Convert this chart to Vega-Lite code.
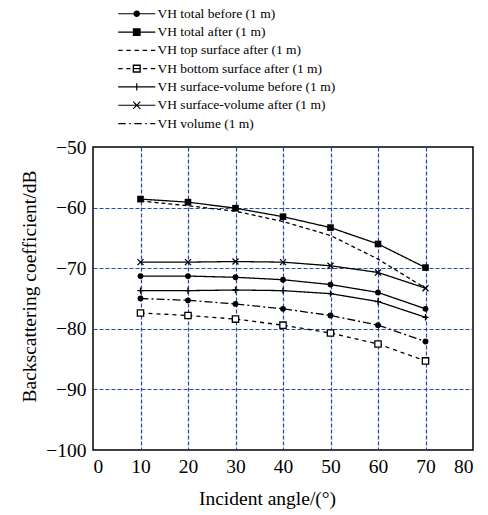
{
  "$schema": "https://vega.github.io/schema/vega-lite/v6.json",
  "width": 380,
  "height": 303,
  "autosize": "none",
  "padding": {"left": 93, "top": 147, "right": 15, "bottom": 65},
  "background": "white",
  "config": {
    "view": {"stroke": "black", "strokeWidth": 1.5},
    "font": "Liberation Serif",
    "axis": {
      "labelFont": "Liberation Serif",
      "labelFontSize": 19.5,
      "labelColor": "black",
      "titleFont": "Liberation Serif",
      "titleFontSize": 19.5,
      "titleFontWeight": "normal",
      "titleColor": "black",
      "ticks": false,
      "domain": false,
      "gridColor": "#2547a6",
      "gridDash": [4, 2],
      "gridWidth": 1.2,
      "gridOpacity": 1
    },
    "legend": {
      "symbolFillColor": "black",
      "symbolStrokeColor": "black",
      "symbolStrokeWidth": 1.2,
      "symbolOpacity": 1
    }
  },
  "datasets": {
    "d": [
      {"series": "VH total before (1 m)", "angle": 10, "value": -71.3},
      {"series": "VH total before (1 m)", "angle": 20, "value": -71.3},
      {"series": "VH total before (1 m)", "angle": 30, "value": -71.5},
      {"series": "VH total before (1 m)", "angle": 40, "value": -71.9},
      {"series": "VH total before (1 m)", "angle": 50, "value": -72.7},
      {"series": "VH total before (1 m)", "angle": 60, "value": -74.0},
      {"series": "VH total before (1 m)", "angle": 70, "value": -76.7},
      {"series": "VH total after (1 m)", "angle": 10, "value": -58.6},
      {"series": "VH total after (1 m)", "angle": 20, "value": -59.1},
      {"series": "VH total after (1 m)", "angle": 30, "value": -60.1},
      {"series": "VH total after (1 m)", "angle": 40, "value": -61.5},
      {"series": "VH total after (1 m)", "angle": 50, "value": -63.3},
      {"series": "VH total after (1 m)", "angle": 60, "value": -66.0},
      {"series": "VH total after (1 m)", "angle": 70, "value": -69.9},
      {"series": "VH top surface after (1 m)", "angle": 10, "value": -58.9},
      {"series": "VH top surface after (1 m)", "angle": 20, "value": -59.7},
      {"series": "VH top surface after (1 m)", "angle": 30, "value": -60.6},
      {"series": "VH top surface after (1 m)", "angle": 40, "value": -62.3},
      {"series": "VH top surface after (1 m)", "angle": 50, "value": -64.6},
      {"series": "VH top surface after (1 m)", "angle": 60, "value": -68.5},
      {"series": "VH top surface after (1 m)", "angle": 70, "value": -73.3},
      {"series": "VH bottom surface after (1 m)", "angle": 10, "value": -77.4},
      {"series": "VH bottom surface after (1 m)", "angle": 20, "value": -77.8},
      {"series": "VH bottom surface after (1 m)", "angle": 30, "value": -78.4},
      {"series": "VH bottom surface after (1 m)", "angle": 40, "value": -79.4},
      {"series": "VH bottom surface after (1 m)", "angle": 50, "value": -80.7},
      {"series": "VH bottom surface after (1 m)", "angle": 60, "value": -82.5},
      {"series": "VH bottom surface after (1 m)", "angle": 70, "value": -85.3},
      {"series": "VH surface-volume before (1 m)", "angle": 10, "value": -73.7},
      {"series": "VH surface-volume before (1 m)", "angle": 20, "value": -73.7},
      {"series": "VH surface-volume before (1 m)", "angle": 30, "value": -73.6},
      {"series": "VH surface-volume before (1 m)", "angle": 40, "value": -73.7},
      {"series": "VH surface-volume before (1 m)", "angle": 50, "value": -74.2},
      {"series": "VH surface-volume before (1 m)", "angle": 60, "value": -75.5},
      {"series": "VH surface-volume before (1 m)", "angle": 70, "value": -78.1},
      {"series": "VH surface-volume after (1 m)", "angle": 10, "value": -69.0},
      {"series": "VH surface-volume after (1 m)", "angle": 20, "value": -69.0},
      {"series": "VH surface-volume after (1 m)", "angle": 30, "value": -68.9},
      {"series": "VH surface-volume after (1 m)", "angle": 40, "value": -69.0},
      {"series": "VH surface-volume after (1 m)", "angle": 50, "value": -69.6},
      {"series": "VH surface-volume after (1 m)", "angle": 60, "value": -70.7},
      {"series": "VH surface-volume after (1 m)", "angle": 70, "value": -73.3},
      {"series": "VH volume (1 m)", "angle": 10, "value": -75.0},
      {"series": "VH volume (1 m)", "angle": 20, "value": -75.3},
      {"series": "VH volume (1 m)", "angle": 30, "value": -75.9},
      {"series": "VH volume (1 m)", "angle": 40, "value": -76.7},
      {"series": "VH volume (1 m)", "angle": 50, "value": -77.8},
      {"series": "VH volume (1 m)", "angle": 60, "value": -79.4},
      {"series": "VH volume (1 m)", "angle": 70, "value": -82.1}
    ]
  },
  "data": {"name": "d"},
  "encoding": {
    "x": {
      "field": "angle", "type": "quantitative",
      "scale": {"domain": [0, 80], "nice": false, "zero": false},
      "axis": {
        "title": "Incident angle/(°)",
        "values": [0, 10, 20, 30, 40, 50, 60, 70, 80],
        "labelPadding": 7,
        "titlePadding": 14,
        "titleX": 174,
        "gridOpacity": {"condition": {"test": "datum.value === 0 || datum.value === 80", "value": 0}, "value": 1}
      }
    },
    "y": {
      "field": "value", "type": "quantitative",
      "scale": {"domain": [-100, -50], "nice": false, "zero": false},
      "axis": {
        "title": "Backscattering coefficient/dB",
        "values": [-100, -90, -80, -70, -60, -50],
        "labelPadding": 7,
        "titlePadding": 6,
        "titleY": 139,
        "gridOpacity": {"condition": {"test": "datum.value === -100 || datum.value === -50", "value": 0}, "value": 1}
      }
    }
  },
  "layer": [
    {
      "mark": {"type": "line", "color": "black", "strokeWidth": 1.3},
      "encoding": {
        "strokeDash": {
          "field": "series", "type": "nominal",
          "scale": {
            "domain": ["VH total before (1 m)", "VH total after (1 m)", "VH top surface after (1 m)", "VH bottom surface after (1 m)", "VH surface-volume before (1 m)", "VH surface-volume after (1 m)", "VH volume (1 m)"],
            "range": [[1, 0], [1, 0], [4, 3], [4, 4], [1, 0], [1, 0], [8, 3, 2, 3]]
          },
          "legend": {
            "title": null,
            "orient": "none",
            "legendX": 37,
            "legendY": -140,
            "padding": 0,
            "symbolSize": 36,
            "labelOffset": 14,
            "rowPadding": 3.3,
            "labelFont": "Liberation Serif",
            "labelFontSize": 13.5,
            "labelColor": "black",
            "labelLimit": 400,
            "symbolFillColor": "black",
            "symbolStrokeColor": "black",
            "symbolStrokeWidth": 1.2
          }
        }
      }
    },
    {
      "transform": [{"filter": "datum.series === 'VH total before (1 m)' || datum.series === 'VH volume (1 m)'"}],
      "mark": {"type": "point", "shape": "circle", "filled": true, "color": "black", "size": 34, "opacity": 1}
    },
    {
      "transform": [{"filter": "datum.series === 'VH total after (1 m)'"}],
      "mark": {"type": "point", "shape": "square", "filled": true, "color": "black", "size": 44, "opacity": 1}
    },
    {
      "transform": [{"filter": "datum.series === 'VH bottom surface after (1 m)'"}],
      "mark": {"type": "point", "shape": "square", "fill": "white", "stroke": "black", "strokeWidth": 1.3, "size": 40, "opacity": 1}
    },
    {
      "transform": [{"filter": "datum.series === 'VH surface-volume before (1 m)'"}],
      "mark": {"type": "point", "shape": "M-1,0H1M0,-1V1", "filled": false, "stroke": "black", "strokeWidth": 1.3, "size": 40, "opacity": 1}
    },
    {
      "transform": [{"filter": "datum.series === 'VH surface-volume after (1 m)'"}],
      "mark": {"type": "point", "shape": "M-1,-1L1,1M-1,1L1,-1", "filled": false, "stroke": "black", "strokeWidth": 1.3, "size": 36, "opacity": 1}
    },
    {
      "transform": [{"filter": "datum.angle > 1000"}],
      "mark": {"type": "point", "filled": true, "color": "black"},
      "encoding": {
        "shape": {
          "field": "series", "type": "nominal",
          "scale": {
            "domain": ["VH total before (1 m)", "VH total after (1 m)", "VH top surface after (1 m)", "VH bottom surface after (1 m)", "VH surface-volume before (1 m)", "VH surface-volume after (1 m)", "VH volume (1 m)"],
            "range": [
              "M-6.2,-0.2H6.2V0.2H-6.2ZM1.1,0A1.1,1.1,0,1,1,-1.1,0A1.1,1.1,0,1,1,1.1,0Z",
              "M-6.2,-0.2H6.2V0.2H-6.2ZM-1.3,-1.3H1.3V1.3H-1.3Z",
              "M-6.17,-0.2H-4.7V0.2H-6.17ZM-3.45,-0.2H-1.98V0.2H-3.45ZM-0.73,-0.2H0.73V0.2H-0.73ZM1.98,-0.2H3.45V0.2H1.98ZM4.7,-0.2H6.17V0.2H4.7Z",
              "M-6.17,-0.2H-4.7V0.2H-6.17ZM-3.45,-0.2H-2.1V0.2H-3.45ZM2.1,-0.2H3.45V0.2H2.1ZM4.7,-0.2H6.17V0.2H4.7ZM-1.35,-1.35H1.35V1.35H-1.35ZM-0.9,-0.9V0.9H0.9V-0.9ZM-0.9,-0.2H0.9V0.2H-0.9Z",
              "M-6.2,-0.2H6.2V0.2H-6.2ZM-0.2,-1.2H0.2V1.2H-0.2Z",
              "M-6.2,-0.2H6.2V0.2H-6.2ZM-1.06,-1.34L1.34,1.06L1.06,1.34L-1.34,-1.06ZM-1.34,1.06L1.06,-1.34L1.34,-1.06L-1.06,1.34Z",
              "M-6.17,-0.2H-3.67V0.2H-6.17ZM-2.5,-0.2H-2.0V0.2H-2.5ZM-0.83,-0.2H1.67V0.2H-0.83ZM2.83,-0.2H3.33V0.2H2.83ZM4.5,-0.2H6.17V0.2H4.5Z"
            ]
          },
          "legend": {
            "title": null,
            "orient": "none",
            "legendX": 37,
            "legendY": -140,
            "padding": 0,
            "symbolSize": 36,
            "labelOffset": 14,
            "rowPadding": 3.3,
            "labelFont": "Liberation Serif",
            "labelFontSize": 13.5,
            "labelColor": "black",
            "labelLimit": 400,
            "symbolFillColor": "black",
            "symbolStrokeColor": "black",
            "symbolStrokeWidth": 1.2
          }
        }
      }
    }
  ]
}
